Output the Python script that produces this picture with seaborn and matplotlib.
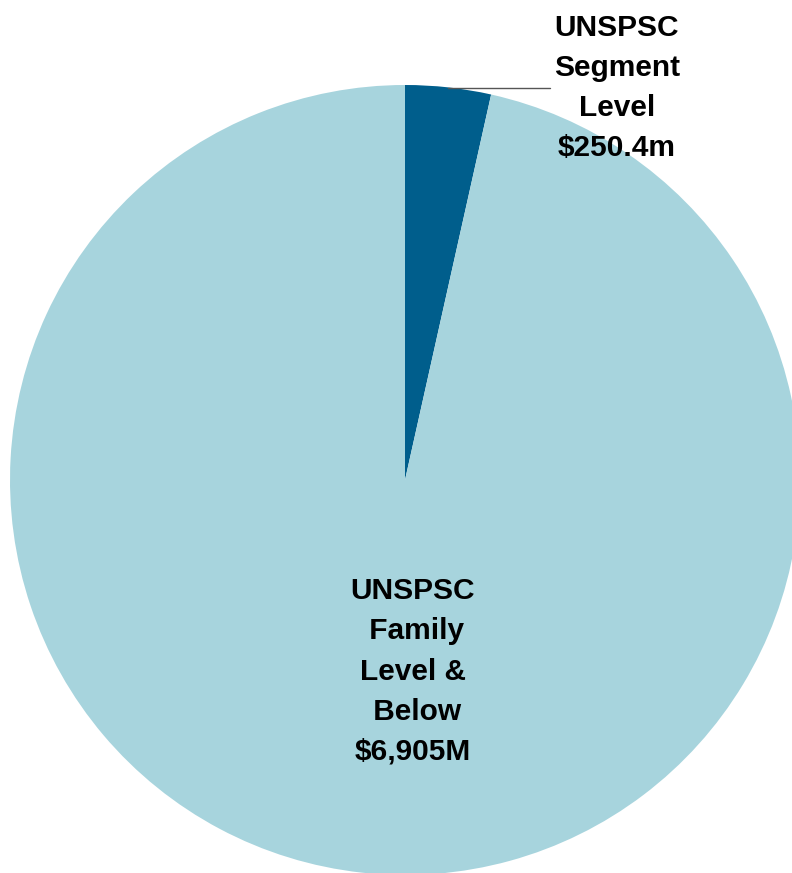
import matplotlib
matplotlib.use("Agg")
import matplotlib.pyplot as plt
import numpy as np
import seaborn as sns

sns.set_theme(style="white")
plt.rcParams["font.family"] = ["Liberation Sans", "DejaVu Sans"]

# Spend split by UNSPSC classification depth ($ millions)
categories = ["UNSPSC\nSegment\nLevel\n$250.4m", "UNSPSC\n Family\nLevel &\n Below\n$6,905M"]
values = [250.4, 6905.0]
colors = ["#005E8C", "#A7D4DD"]

W, H = 792, 873
fig = plt.figure(figsize=(W / 100, H / 100), dpi=100)
ax = fig.add_axes([0, 0, 1, 1])

cx, cy, r = 405, 393, 395
wedges, _ = ax.pie(values, colors=colors, startangle=90, counterclock=False,
                   center=(cx, cy), radius=r, frame=True,
                   wedgeprops=dict(linewidth=0))
ax.set_xlim(0, W)
ax.set_ylim(0, H)
ax.set_aspect("equal")
ax.axis("off")

# Segment label outside the pie with a horizontal leader
w0 = wedges[0]
mid = np.deg2rad((w0.theta1 + w0.theta2) / 2)
x0, y0 = cx + r * np.cos(mid), cy + r * np.sin(mid)
ax.plot([x0, 550], [y0 - 0.5, y0 - 0.5], color="#555555", linewidth=1.0)
ax.text(617, y0 - 0.5, categories[0], ha="center", va="center", fontsize=21.5,
        fontweight="bold", color="black", linespacing=1.55, multialignment="center")

# Family-level label inside the large slice
ax.text(413, 201.5, categories[1], ha="center", va="center", fontsize=21.5,
        fontweight="bold", color="black", linespacing=1.55, multialignment="center")

fig.savefig("out.png", dpi=100)
